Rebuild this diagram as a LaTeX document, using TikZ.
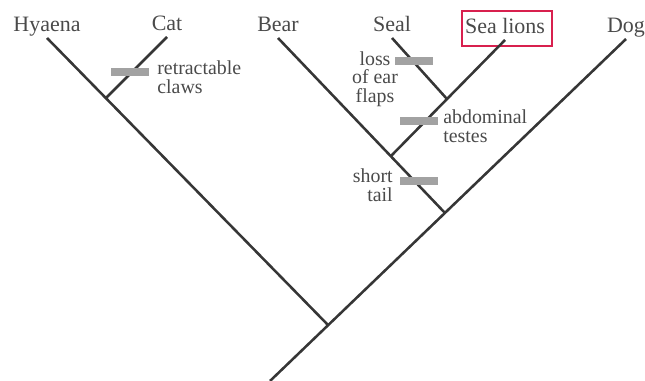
\documentclass[tikz,border=0pt]{standalone}
\usepackage{fontspec}
\setmainfont{Liberation Serif}
\usetikzlibrary{positioning}
\definecolor{branchgray}{HTML}{363636}
\definecolor{bargray}{HTML}{A2A2A2}
\definecolor{textgray}{HTML}{4A4A4A}
\definecolor{markred}{HTML}{D8204E}
\tikzset{
  taxon/.style={font=\fontsize{12.5}{12.5}\selectfont, text=textgray, inner sep=1pt, text height=0.7em, text depth=0.25em},
  trait/.style={font=\fontsize{11.3}{10.6}\selectfont, text=textgray, inner sep=0pt},
  branch/.style={draw=branchgray, line width=1.45pt},
  synapo/.style={rectangle, fill=bargray, minimum width=0.76cm, minimum height=0.15cm, inner sep=0pt},
  redbox/.style={rectangle, draw=markred, line width=0.9pt, minimum width=1.8cm, minimum height=0.7cm}
}
\begin{document}
\begin{tikzpicture}[x=0.02cm, y=-0.02cm]
        \useasboundingbox (0,0) rectangle (645,381);

        % tips of the tree
        \coordinate (tHyaena) at (47,38);
        \coordinate (tCat) at (167,37);
        \coordinate (tBear) at (278,38);
        \coordinate (tSeal) at (392,38);
        \coordinate (tSealion) at (505,40);
        \coordinate (tDog) at (626,39);

        % branching points
        \coordinate (jClaws) at (106,98);
        \coordinate (jPinni) at (447,99);
        \coordinate (jTestes) at (391,156);
        \coordinate (jBear) at (445,213);
        \coordinate (jCarn) at (328,325);
        \coordinate (root) at (270,381);

        % taxa
        \node (Hyaena) [taxon, above=0pt of tHyaena] {Hyaena};
        \node (Cat) [taxon, above=0pt of tCat] {Cat};
        \node (Bear) [taxon, above=0pt of tBear] {Bear};
        \node (Seal) [taxon, above=0pt of tSeal] {Seal};
        \node (Sealion) [taxon, above=0pt of tSealion] {Sea lions};
        \node (Dog) [taxon, above=0pt of tDog] {Dog};
        \node (ring) [redbox] at ([xshift=0.04cm,yshift=0.02cm]Sealion.center) {};

        % branches
        \draw [branch] (tDog) -- (root);
        \draw [branch] (tHyaena) -- (jCarn);
        \draw [branch] (tCat) -- (jClaws);
        \draw [branch] (tBear) -- (jBear);
        \draw [branch] (tSealion) -- (jTestes);
        \draw [branch] (tSeal) -- (jPinni);

        % shared derived characters
        \node (bClaws) [synapo] at (130,72) {};
        \node (bEar) [synapo] at (414,61) {};
        \node (bTestes) [synapo] at (419,121) {};
        \node (bTail) [synapo] at (419,181) {};

        \node (lClaws) [trait, anchor=west, align=left] at (157,77) {retractable\\claws};
        \node (lEar) [trait, align=center] at (375,79) {loss\\of ear\\flaps};
        \node (lTestes) [trait, anchor=west, align=left] at (443,126) {abdominal\\testes};
        \node (lTail) [trait, anchor=east, align=right] at (393,185) {short\\tail};

    \end{tikzpicture}
\end{document}
